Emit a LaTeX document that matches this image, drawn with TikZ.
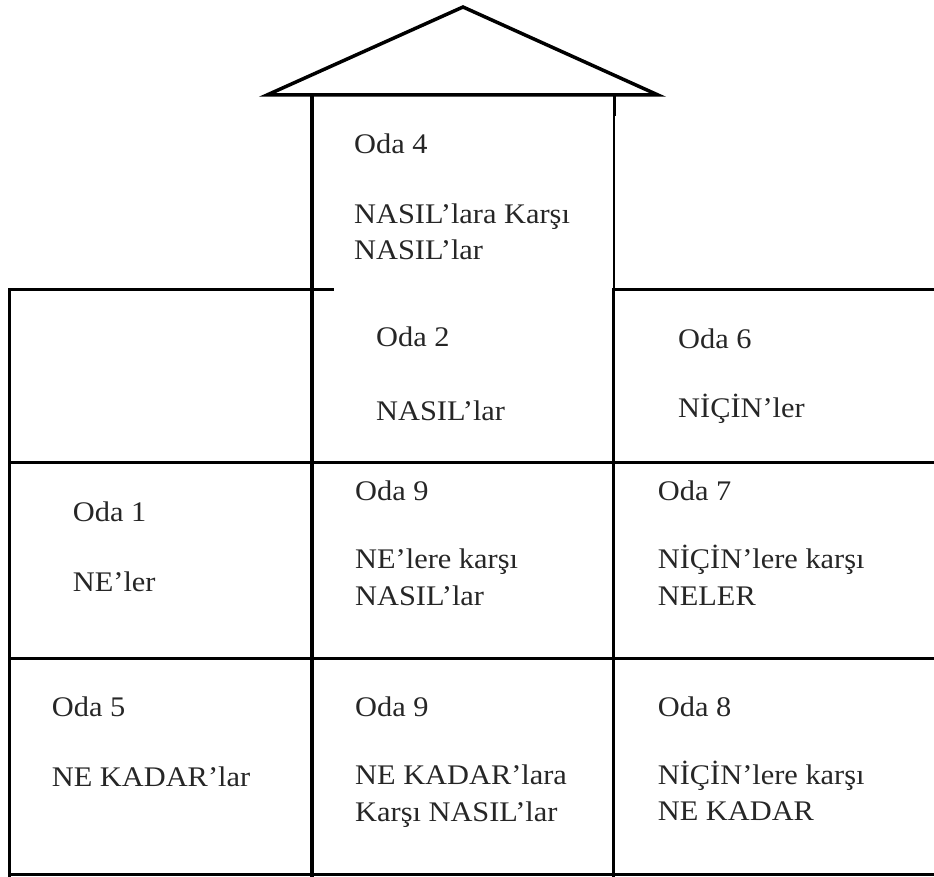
\documentclass[tikz,border=0pt]{standalone}
\usepackage{fontspec}
\setmainfont{Liberation Serif}[FakeStretch=1.07]
\begin{document}
\begin{tikzpicture}[x=1pt,y=-1pt,
  wall/.style={line width=3pt,line cap=rect},
  thickwall/.style={line width=4.5pt,line cap=rect},
  thinwall/.style={line width=2pt},
  roofline/.style={line width=3.5pt,line join=miter},
  lbl/.style={anchor=base west,inner sep=0pt,text=black!85,
    font=\fontsize{28.4}{34}\selectfont}]
\useasboundingbox (0,0) rectangle (934,877);

% corner points of the house
\coordinate (apex) at (463,7);
\coordinate (eaveL) at (267,95);
\coordinate (eaveR) at (658,95);
\coordinate (twTL) at (312,95);
\coordinate (twTR) at (614,95);

% roof
\draw[roofline] (eaveL) -- (apex) -- (eaveR) -- cycle;

% tower walls
\draw[thickwall] (twTL) -- (312,875);
\draw[thinwall] (twTR) -- (614,290);
\draw[wall] (614,115) -- (614,95);
\draw[wall] (613,290) -- (613,875);

% left wing border
\draw[wall] (9,290) -- (9,875);

% floor lines
\draw[wall] (9,290) -- (332,290);
\draw[wall] (613,290) -- (934,290);
\draw[wall] (9,462.7) -- (934,462.7);
\draw[wall] (9,658) -- (934,658);
\draw[wall] (9,874) -- (934,874);

% room labels
\node[lbl] (o4) at (354,153.3) {Oda 4};
\node[lbl] (o4a) at (354,223.3) {NASIL’lara Karşı};
\node[lbl] (o4b) at (354,260) {NASIL’lar};

\node[lbl] (o2) at (376,346.7) {Oda 2};
\node[lbl] (o2a) at (376,420) {NASIL’lar};

\node[lbl] (o6) at (678,348.3) {Oda 6};
\node[lbl] (o6a) at (678,417.3) {NİÇİN’ler};

\node[lbl] (o1) at (72.7,521.7) {Oda 1};
\node[lbl] (o1a) at (72.7,591.7) {NE’ler};

\node[lbl] (o9) at (355,500) {Oda 9};
\node[lbl] (o9a) at (355,568.3) {NE’lere karşı};
\node[lbl] (o9b) at (355,605) {NASIL’lar};

\node[lbl] (o7) at (657.7,500) {Oda 7};
\node[lbl] (o7a) at (657.7,568.3) {NİÇİN’lere karşı};
\node[lbl] (o7b) at (657.7,605) {NELER};

\node[lbl] (o5) at (51.7,716) {Oda 5};
\node[lbl] (o5a) at (51.7,786) {NE KADAR’lar};

\node[lbl] (o9c) at (355,716) {Oda 9};
\node[lbl] (o9d) at (355,784) {NE KADAR’lara};
\node[lbl] (o9e) at (355,821) {Karşı NASIL’lar};

\node[lbl] (o8) at (657.7,716) {Oda 8};
\node[lbl] (o8a) at (657.7,784) {NİÇİN’lere karşı};
\node[lbl] (o8b) at (657.7,820) {NE KADAR};
\end{tikzpicture}
\end{document}
